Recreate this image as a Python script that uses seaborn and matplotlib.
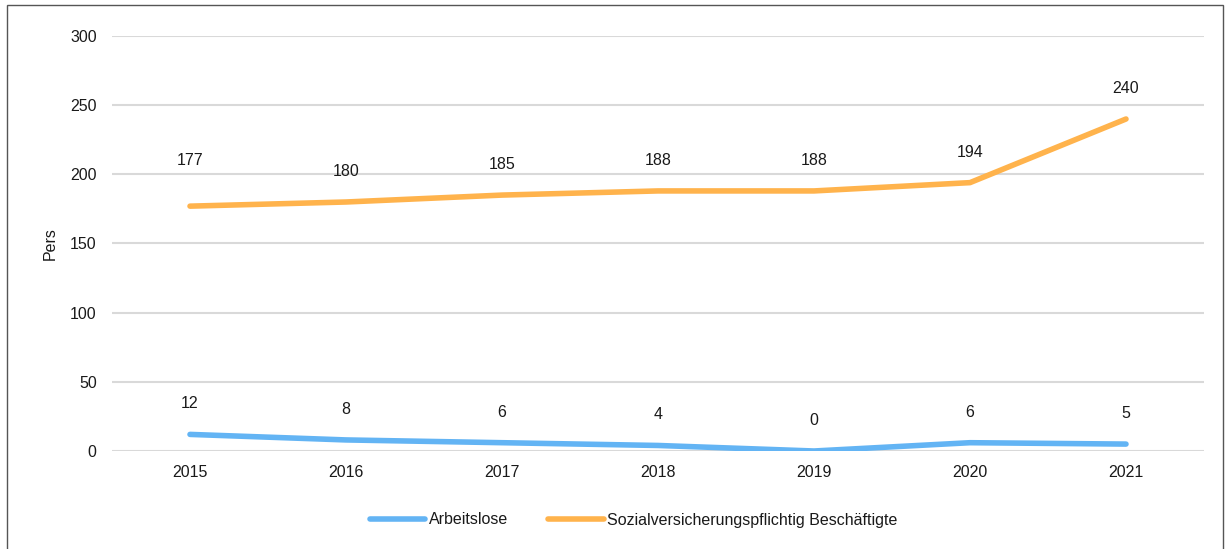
import matplotlib
matplotlib.use("Agg")
import matplotlib.pyplot as plt
import seaborn as sns
import pandas as pd
from matplotlib.patches import Rectangle
from matplotlib.lines import Line2D

years = ["2015", "2016", "2017", "2018", "2019", "2020", "2021"]
arbeitslose = [12, 8, 6, 4, 0, 6, 5]
beschaeftigte = [177, 180, 185, 188, 188, 194, 240]
series_names = ["Arbeitslose", "Sozialversicherungspflichtig Beschäftigte"]
colors = ["#63B4F4", "#FFB34C"]

sns.set_theme(style="white")
plt.rcParams['font.family'] = ['Liberation Sans', 'DejaVu Sans']

df = pd.DataFrame({
    "Jahr": years * 2,
    "Wert": arbeitslose + beschaeftigte,
    "Serie": [series_names[0]] * len(years) + [series_names[1]] * len(years),
})

fig = plt.figure(figsize=(12.3, 5.49), dpi=100)
ax = fig.add_axes([112 / 1230, 1 - 451 / 549, (1204 - 112) / 1230, (451 - 36) / 549])

sns.lineplot(data=df, x="Jahr", y="Wert", hue="Serie", palette=colors,
             linewidth=4, ax=ax, sort=False, legend=False,
             solid_capstyle="round")

for s_idx, vals in enumerate((arbeitslose, beschaeftigte)):
    for i, v in enumerate(vals):
        off = 22
        if s_idx == 1 and i == 0:
            off = 33  # label moved higher in the original
        ax.annotate(str(v), (i, v), xytext=(0, off), textcoords="offset points",
                    ha="center", va="center", fontsize=11.5, color="#1a1a1a")

ax.set_xlim(-0.5, len(years) - 0.5)
ax.set_ylim(0, 300)
ax.set_yticks([0, 50, 100, 150, 200, 250, 300])
ax.grid(axis="y", color="#D9D9D9", linewidth=1.5)
ax.set_axisbelow(True)
for s in ax.spines.values():
    s.set_visible(False)
ax.tick_params(axis="both", length=0, labelsize=11.5, colors="#1a1a1a")
ax.tick_params(axis="y", pad=11)
ax.tick_params(axis="x", pad=10)
ax.set_xlabel("")
ax.set_ylabel("Pers", fontsize=11.5, color="#1a1a1a")
ax.yaxis.set_label_coords(-54 / 1092, 0.5)

handles = [Line2D([], [], color=c, linewidth=4, solid_capstyle="round") for c in colors]
fig.legend(handles, series_names, loc="center", bbox_to_anchor=(0.515, 1 - 520 / 549),
           ncol=2, frameon=False, fontsize=11.5, handlelength=3.5, handletextpad=0.2,
           columnspacing=2.5, labelcolor="#1a1a1a")

fig.patches.append(Rectangle((7 / 1230, -0.01), (1223 - 7) / 1230, 1 - 5 / 549 + 0.01,
                             transform=fig.transFigure, fill=False,
                             edgecolor="#555555", linewidth=1))

fig.savefig("out.png", dpi=100)
